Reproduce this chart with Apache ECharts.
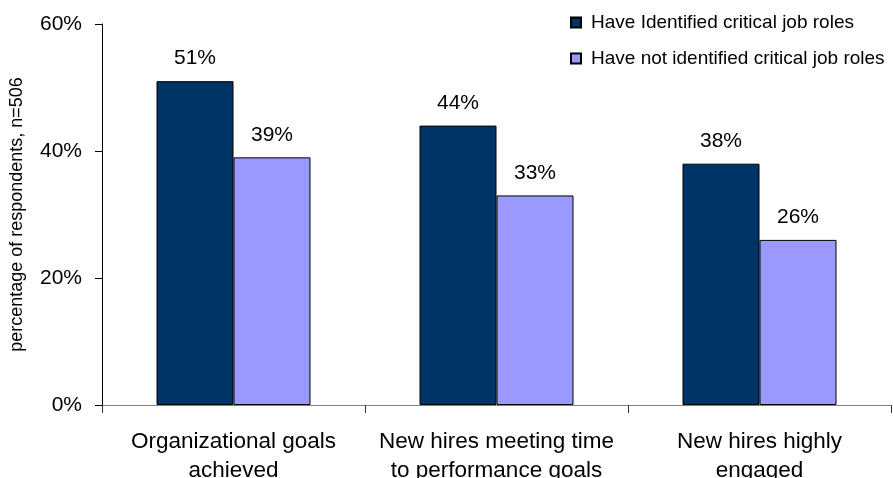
<!DOCTYPE html>
<html>
<head>
<meta charset="utf-8">
<script src="https://cdn.jsdelivr.net/npm/echarts@6/dist/echarts.min.js"></script>
<style>
  html, body { margin: 0; padding: 0; background: #ffffff; }
  #chart { width: 893px; height: 478px; }
</style>
</head>
<body>
<div id="chart"></div>
<script>
// Survey outcomes by whether critical job roles have been identified
const categories = [
  'Organizational goals\nachieved',
  'New hires meeting time\nto performance goals',
  'New hires highly\nengaged'
];
const seriesNames = [
  'Have Identified critical job roles',
  'Have not identified critical job roles'
];
const identifiedValues = [51, 44, 38];
const notIdentifiedValues = [39, 33, 26];
const yTicks = [0, 20, 40, 60];

const FONT = '"Liberation Sans", Arial, sans-serif';

const chart = echarts.init(document.getElementById('chart'), null, { renderer: 'canvas' });

function barSeries(name, data, color) {
  return {
    name: name,
    type: 'bar',
    data: data,
    barWidth: 77,
    barGap: '0%',
    itemStyle: { color: color, borderColor: '#000000', borderWidth: 1 },
    label: {
      show: true,
      position: 'top',
      distance: 12,
      formatter: p => p.value + '%',
      color: '#000000',
      fontFamily: FONT,
      fontSize: 21
    },
    emphasis: { disabled: true }
  };
}

chart.setOption({
  animation: false,
  backgroundColor: '#ffffff',
  textStyle: { fontFamily: FONT },
  grid: {
    left: 102, right: 2, top: 24, bottom: 73,
    containLabel: false,
    outerBoundsMode: 'none'
  },
  legend: {
    orient: 'vertical',
    left: 565,
    top: 8,
    itemWidth: 10,
    itemHeight: 10,
    itemGap: 17,
    icon: 'rect',
    textStyle: { fontFamily: FONT, fontSize: 19, color: '#000000', padding: [0, 0, 0, 5] },
    data: seriesNames
  },
  xAxis: {
    type: 'category',
    data: categories,
    boundaryGap: true,
    axisLine: { show: true, lineStyle: { color: '#808080', width: 1 } },
    axisTick: { show: true, length: 8, alignWithLabel: false, lineStyle: { color: '#333333' } },
    axisLabel: {
      interval: 0,
      margin: 22,
      color: '#000000',
      fontFamily: FONT,
      fontSize: 22.5,
      lineHeight: 29
    },
    splitLine: { show: false }
  },
  yAxis: {
    type: 'value',
    min: yTicks[0],
    max: yTicks[yTicks.length - 1],
    interval: yTicks[1] - yTicks[0],
    name: 'percentage of respondents, n=506',
    nameLocation: 'middle',
    nameRotate: 90,
    nameGap: 76,
    nameTextStyle: { color: '#000000', fontFamily: FONT, fontSize: 18 },
    axisLine: { show: true, lineStyle: { color: '#000000', width: 1 } },
    axisTick: { show: true, length: 7, lineStyle: { color: '#000000' } },
    axisLabel: {
      margin: 20,
      formatter: v => v + '%',
      color: '#000000',
      fontFamily: FONT,
      fontSize: 21
    },
    splitLine: { show: false }
  },
  series: [
    barSeries(seriesNames[0], identifiedValues, '#003366'),
    barSeries(seriesNames[1], notIdentifiedValues, '#9999FF')
  ]
});
</script>
</body>
</html>
